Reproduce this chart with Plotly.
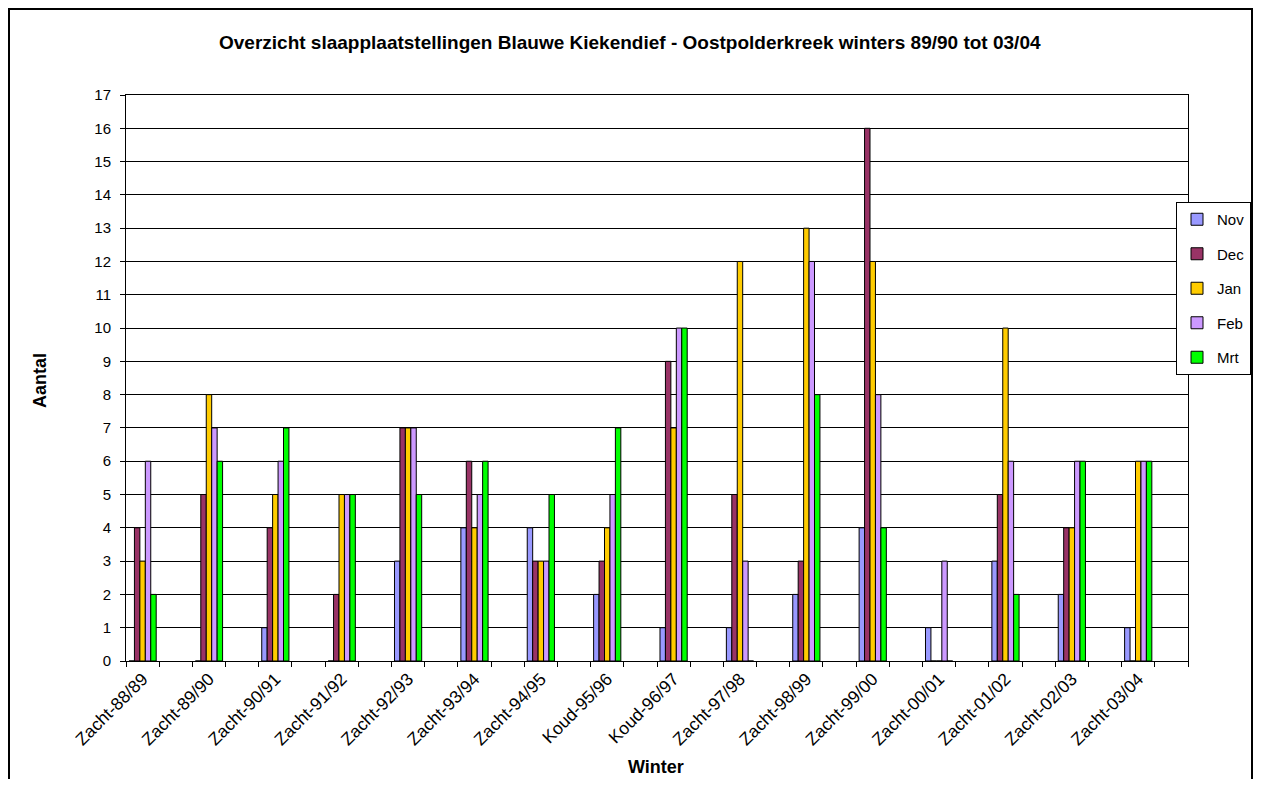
import plotly.graph_objects as go

winters = ["Zacht-88/89", "Zacht-89/90", "Zacht-90/91", "Zacht-91/92", "Zacht-92/93",
           "Zacht-93/94", "Zacht-94/95", "Koud-95/96", "Koud-96/97", "Zacht-97/98",
           "Zacht-98/99", "Zacht-99/00", "Zacht-00/01", "Zacht-01/02", "Zacht-02/03",
           "Zacht-03/04"]
nov = [0, 0, 1, 0, 3, 4, 4, 2, 1, 1, 2, 4, 1, 3, 2, 1]
dec = [4, 5, 4, 2, 7, 6, 3, 3, 9, 5, 3, 16, 0, 5, 4, 0]
jan = [3, 8, 5, 5, 7, 4, 3, 4, 7, 12, 13, 12, 0, 10, 4, 6]
feb = [6, 7, 6, 5, 7, 5, 3, 5, 10, 3, 12, 8, 3, 6, 6, 6]
mrt = [2, 6, 7, 5, 5, 6, 5, 7, 10, 0, 8, 4, 0, 2, 6, 6]

series = [("Nov", nov, "#9999FF"), ("Dec", dec, "#993366"), ("Jan", jan, "#FFCC00"),
          ("Feb", feb, "#CC99FF"), ("Mrt", mrt, "#00FF00")]

# each winter occupies every other category slot (empty slot in between)
xpos = [2 * i for i in range(len(winters))]

OFF = 8  # page body margin
W, H = 1261 - 2 * OFF, 787 - 2 * OFF
L, R, T, B = 126 - OFF, 1188 - OFF, 95 - OFF, 661 - OFF
pw, ph = R - L, B - T

def px(x):  # x in screenshot pixels
    return (x - OFF - L) / pw

def py(y):
    return (B - (y - OFF)) / ph

fig = go.Figure()
for name, vals, col in series:
    fig.add_trace(go.Bar(
        x=xpos, y=vals, name=name, legendgroup=name,
        marker=dict(color=col, line=dict(color="#000000", width=1)),
    ))

font = "Liberation Sans, Arial, sans-serif"

fig.update_layout(
    width=W, height=H,
    margin=dict(l=L, r=W - R, t=T, b=H - B, pad=0, autoexpand=False),
    paper_bgcolor="white", plot_bgcolor="white",
    barmode="group", bargap=0.59, bargroupgap=0,
    font=dict(family=font, size=15, color="#000000"),
    showlegend=True,
    legend=dict(
        x=px(1251), y=py(202), xanchor="right", yanchor="top",
        bordercolor="#000000", borderwidth=1, bgcolor="white",
        font=dict(family=font, size=15, color="#000000"),
        traceorder="grouped", tracegroupgap=12, itemwidth=30,
    ),
    xaxis=dict(
        range=[-0.5, 31.5], tickmode="array", tickvals=xpos, ticktext=winters,
        tickangle=-45, ticks="", showgrid=False, zeroline=False,
        showline=True, linecolor="#000000", linewidth=1, mirror=True,
        tickfont=dict(family=font, size=17.5, color="#000000"),
        minor=dict(tickmode="array", tickvals=[i - 0.5 for i in range(33)],
                   ticks="outside", ticklen=5, tickcolor="#000000", showgrid=False),
    ),
    yaxis=dict(
        range=[0, 17], dtick=1, tick0=0, ticks="outside", ticklen=5, tickcolor="#000000",
        ticklabelstandoff=6,
        showgrid=True, gridcolor="#000000", gridwidth=1, zeroline=False,
        showline=True, linecolor="#000000", linewidth=1, mirror=True,
        tickfont=dict(family=font, size=15, color="#000000"),
    ),
    annotations=[
        dict(text="<b>Overzicht slaapplaatstellingen Blauwe Kiekendief - Oostpolderkreek winters 89/90 tot 03/04</b>",
             x=px(630), y=py(42), xref="paper", yref="paper", showarrow=False,
             xanchor="center", yanchor="middle", font=dict(family=font, size=19)),
        dict(text="<b>Aantal</b>", x=px(40), y=py(381), xref="paper", yref="paper",
             showarrow=False, textangle=-90, xanchor="center", yanchor="middle",
             font=dict(family=font, size=18)),
        dict(text="<b>Winter</b>", x=px(656), y=py(767), xref="paper", yref="paper",
             showarrow=False, xanchor="center", yanchor="middle",
             font=dict(family=font, size=18)),
    ],
    shapes=[
        dict(type="rect", xref="paper", yref="paper",
             x0=px(OFF + 1), x1=px(OFF + W - 1), y0=py(800), y1=py(OFF + 1),
             line=dict(color="#000000", width=2), fillcolor="rgba(0,0,0,0)", layer="below"),
    ],
)

fig.write_html("out.html")
